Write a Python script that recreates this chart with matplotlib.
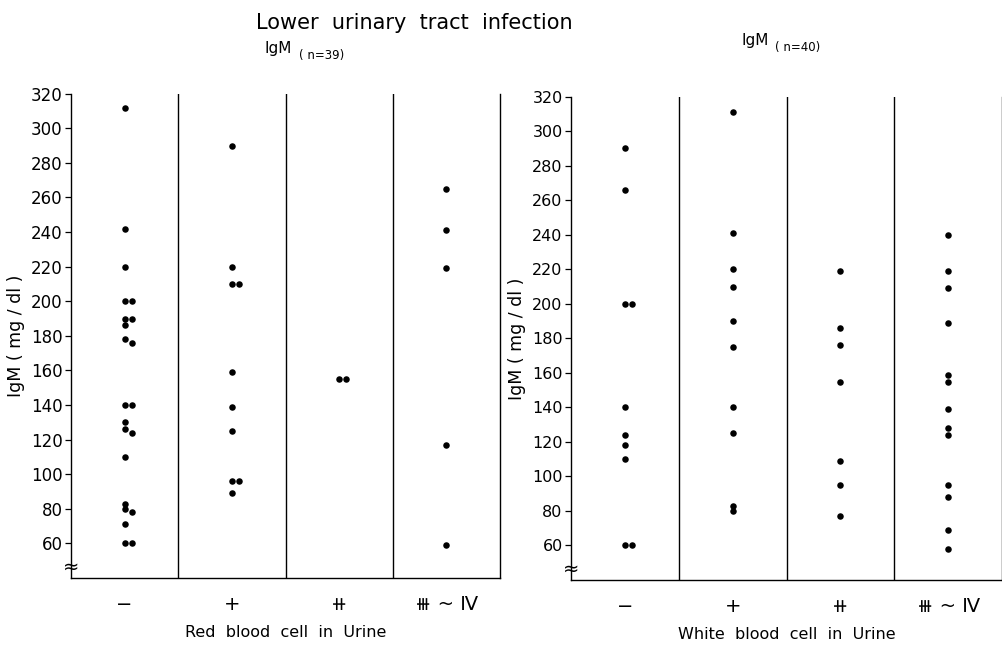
import matplotlib
matplotlib.use("Agg")
import matplotlib.pyplot as plt
import matplotlib.transforms as mtransforms

plt.rcParams["font.family"] = ["DejaVu Sans", "Noto Sans CJK JP"]

# Urinalysis grades shown under each panel
grades = ["−", "+", "⧺", "⧻ ~ Ⅳ"]

# Serum IgM (mg/dl) by red blood cell grade in urine (n = 39)
rbc_neg = [312, 242, 220, 200, 200, 190, 190, 186, 178, 176, 140, 140, 130,
           126, 124, 110, 83, 80, 78, 71, 60, 60]
rbc_1p = [290, 220, 210, 210, 159, 139, 125, 96, 96, 89]
rbc_2p = [155, 155]
rbc_3p = [265, 241, 219, 117, 59]

# Serum IgM (mg/dl) by white blood cell grade in urine (n = 40)
wbc_neg = [290, 266, 200, 200, 140, 124, 118, 110, 60, 60]
wbc_1p = [311, 241, 220, 210, 190, 175, 140, 125, 83, 80]
wbc_2p = [219, 186, 176, 155, 109, 95, 77]
wbc_3p = [240, 219, 209, 189, 159, 155, 139, 128, 124, 95, 88, 69, 58]

y_ticks = list(range(60, 321, 20))


def side_by_side(values, tol=3.0, step=0.068):
    """Horizontal offsets so that near-equal values sit next to each other."""
    offsets = []
    prev = None
    k = 0
    for v in values:
        if prev is not None and abs(v - prev) < tol:
            k += 1
        else:
            k = 0
        offsets.append(k * step)
        prev = v
    return offsets


def draw_panel(ax, columns, xlabel, tick_size):
    for i, vals in enumerate(columns):
        vals = sorted(vals, reverse=True)
        xs = [i + o for o in side_by_side(vals)]
        ax.scatter(xs, vals, s=22, color="black", linewidths=0, zorder=3)

    for b in (0.5, 1.5, 2.5):
        ax.axvline(b, color="black", linewidth=1.0, zorder=1)

    ax.set_xlim(-0.5, 3.5)
    ax.set_ylim(40, 320)
    ax.set_yticks(y_ticks)
    ax.set_xticks(range(len(grades)))
    ax.set_xticklabels(grades, fontsize=14)
    ax.tick_params(axis="x", length=0, pad=12)
    ax.tick_params(axis="y", direction="out", length=4, width=0.9,
                   pad=2, labelsize=tick_size)

    ax.spines["top"].set_visible(False)
    for side in ("left", "bottom", "right"):
        ax.spines[side].set_linewidth(1.0)

    ax.set_xlabel(xlabel, fontsize=11.5, labelpad=8)
    ax.set_ylabel("IgM ( mg / dl )", fontsize=12.5, labelpad=4)

    # axis break mark at the foot of the value axis
    trans = mtransforms.blended_transform_factory(ax.transAxes, ax.transData)
    ax.text(0.0, 46, "≈", transform=trans, ha="center", va="center",
            fontsize=14, zorder=4)


fig = plt.figure(figsize=(10.03, 6.5), dpi=100)
ax1 = fig.add_axes([0.0708, 0.1108, 0.4277, 0.745])
ax2 = fig.add_axes([0.5693, 0.1077, 0.4297, 0.7435])

draw_panel(ax1, [rbc_neg, rbc_1p, rbc_2p, rbc_3p],
           "Red  blood  cell  in  Urine", 12)
draw_panel(ax2, [wbc_neg, wbc_1p, wbc_2p, wbc_3p],
           "White  blood  cell  in  Urine", 11.5)

fig.text(0.413, 0.965, "Lower  urinary  tract  infection",
         ha="center", va="center", fontsize=15)

fig.text(0.264, 0.925, "IgM", ha="left", va="center", fontsize=11)
fig.text(0.298, 0.915, "( n=39)", ha="left", va="center", fontsize=8.5)
fig.text(0.739, 0.938, "IgM", ha="left", va="center", fontsize=11)
fig.text(0.773, 0.927, "( n=40)", ha="left", va="center", fontsize=8.5)

fig.savefig("out.png", dpi=100)
